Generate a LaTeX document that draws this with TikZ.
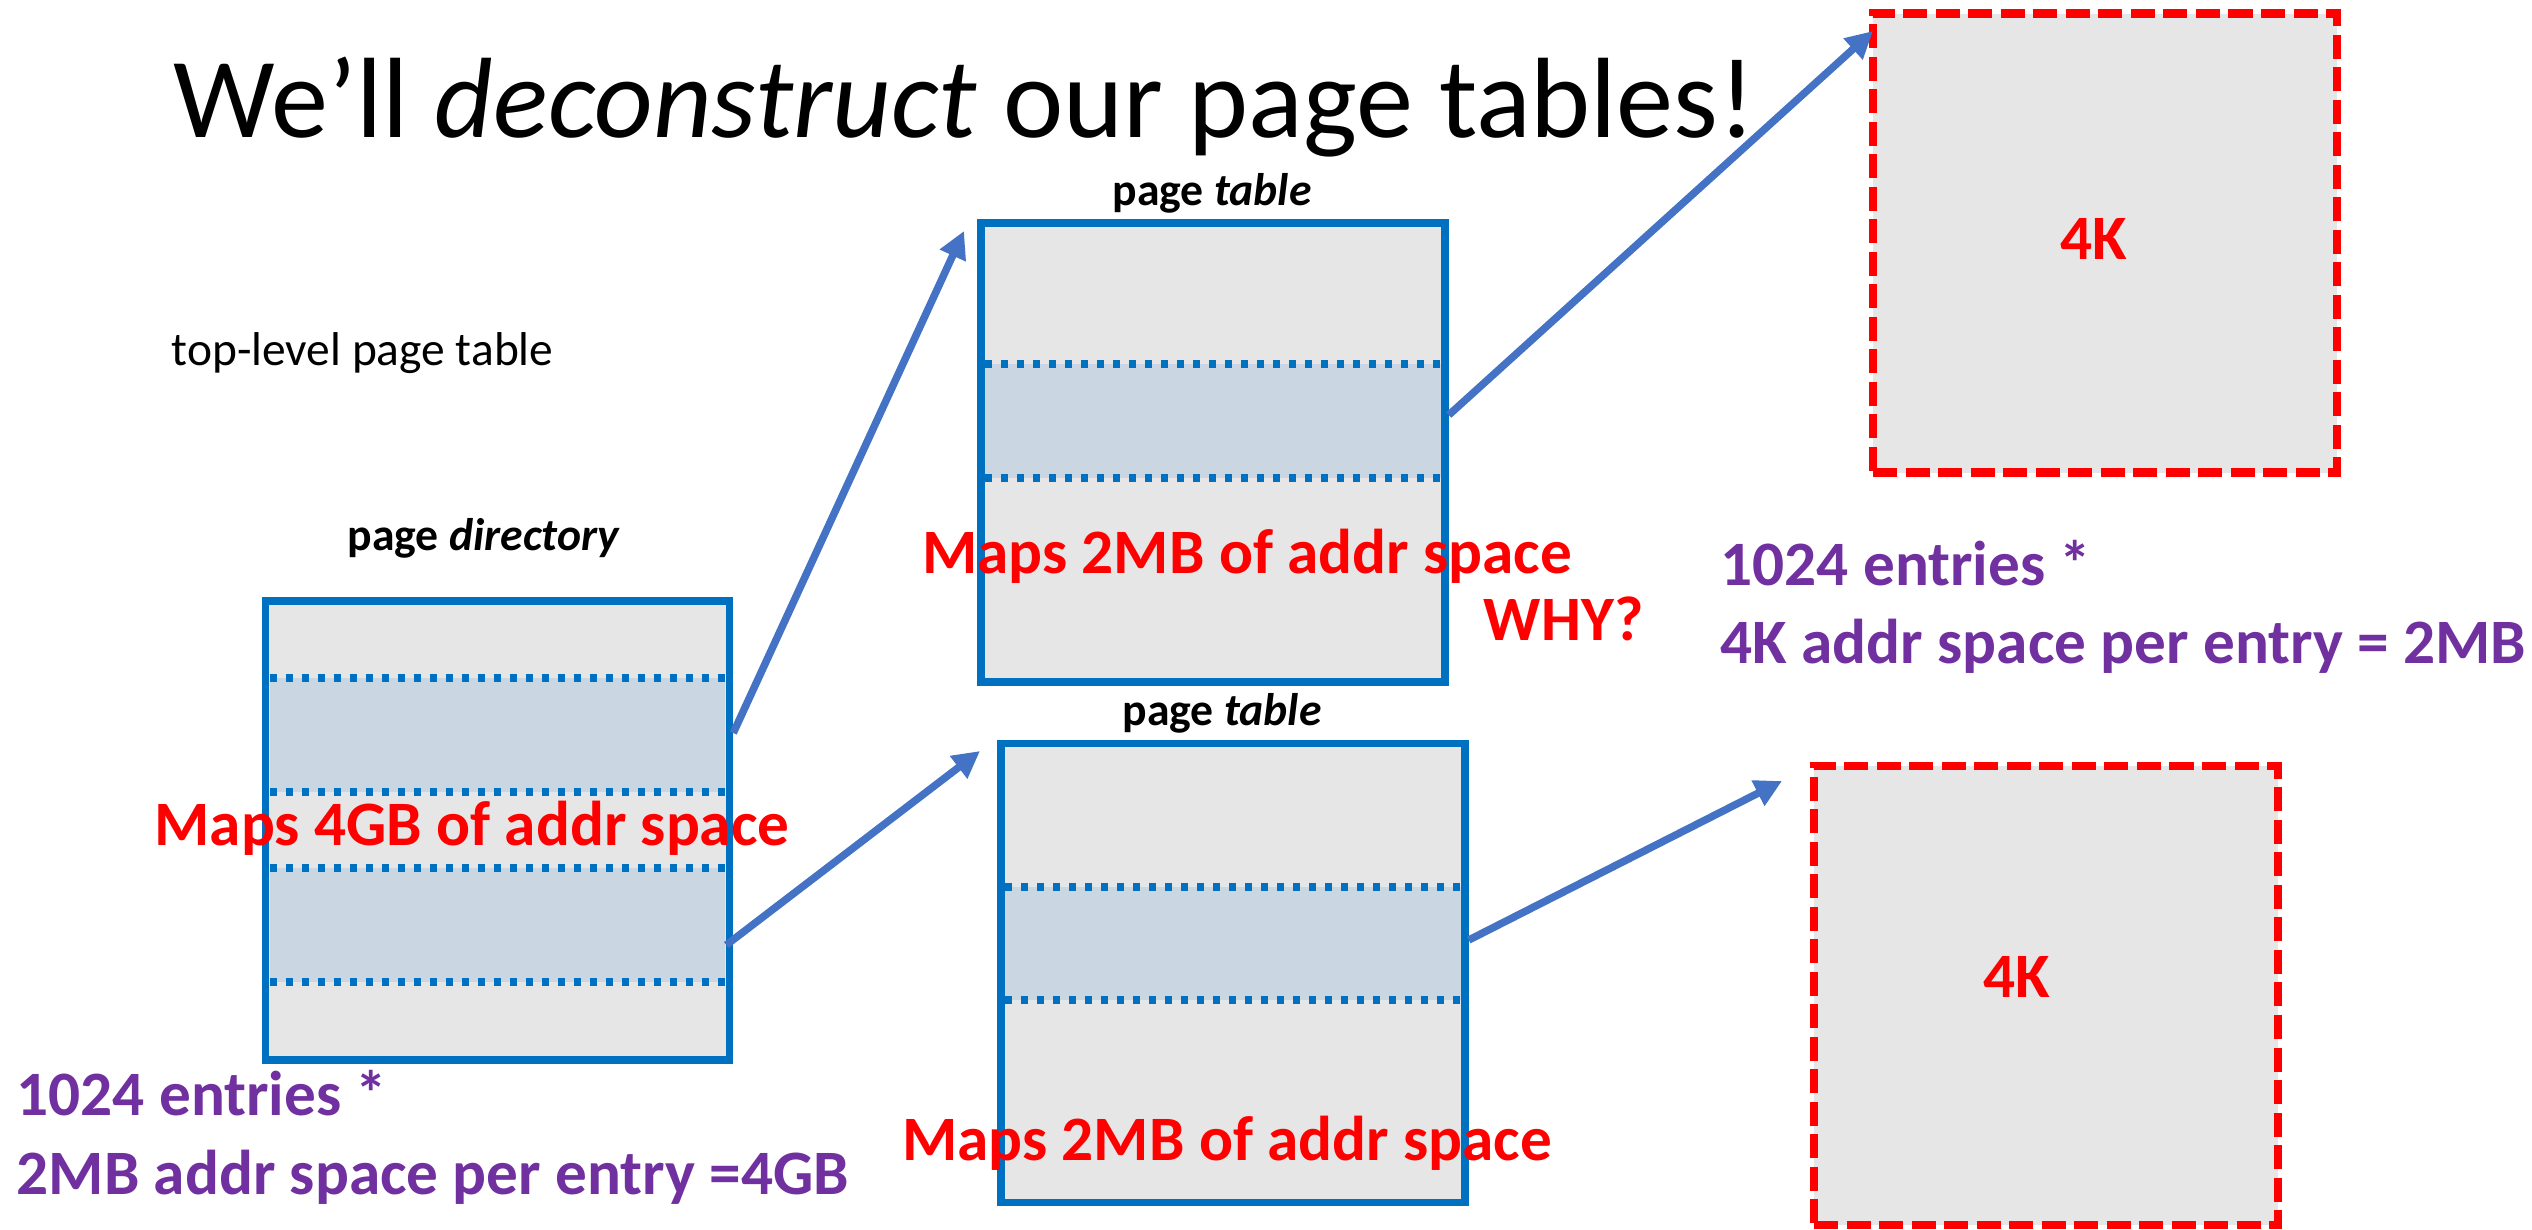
\documentclass[tikz,border=0pt]{standalone}
\usepackage{fontspec}
\setmainfont{Carlito}
\usetikzlibrary{positioning,arrows.meta}
\definecolor{tblblue}{RGB}{0,112,192}
\definecolor{arrblue}{RGB}{68,114,196}
\definecolor{pagegray}{RGB}{230,230,230}
\definecolor{entryfill}{RGB}{202,214,225}
\definecolor{notepurple}{RGB}{112,48,160}
\newcommand{\titlefont}{\fontsize{32.5}{39}\selectfont}
\newcommand{\lblfont}{\fontsize{13}{16}\selectfont\bfseries}
\newcommand{\mapfont}{\fontsize{18}{22.2}\selectfont\bfseries}

\begin{document}
\begin{tikzpicture}[
  tbl/.style={draw=tblblue, fill=pagegray, line width=0.075cm,
              minimum width=4.64cm, minimum height=4.59cm, inner sep=0pt},
  frame/.style={draw=red, fill=pagegray, line width=0.085cm,
                dash pattern=on 0.24cm off 0.085cm,
                minimum width=4.64cm, minimum height=4.59cm, inner sep=0pt},
  entry/.style={fill=entryfill},
  sep/.style={draw=tblblue, line width=0.075cm, dash pattern=on 0.07cm off 0.09cm},
  ptr/.style={draw=arrblue, line width=0.075cm,
              -{Triangle[length=0.27cm, width=0.27cm]}},
  maps/.style={anchor=base, text=red, font=\mapfont, inner sep=0pt},
  size/.style={text=red, font=\mapfont, inner sep=0pt},
  note/.style={anchor=north west, align=left, text=notepurple, font=\mapfont, inner sep=0pt},
]
\useasboundingbox (0,0) rectangle (25.32,-12.29);

\node[anchor=base west, font=\titlefont, inner sep=0pt] (title) at (1.73,-1.37)
    {We’ll \textit{deconstruct} our page tables!};
\node[anchor=base west, font=\fontsize{13.5}{16}\selectfont, inner sep=0pt] (toplvl) at (1.71,-3.65)
    {top-level page table};

% tables
\node[tbl] (pd)  at (4.975,-8.305) {};
\node[tbl] (pt1) at (12.13,-4.525) {};
\node[tbl] (pt2) at (12.33,-9.73)  {};

% entries in use
\fill[entry] (2.70,-6.78) rectangle (7.25,-7.92);
\fill[entry] (2.70,-8.68) rectangle (7.25,-9.82);
\fill[entry] (9.85,-3.64) rectangle (14.41,-4.78);
\fill[entry] (10.05,-8.87) rectangle (14.61,-10.00);
\foreach \y in {-6.78,-7.92,-8.68,-9.82}
  \draw[sep] (2.70,\y) -- (7.25,\y);
\foreach \y in {-3.64,-4.78}
  \draw[sep] (9.85,\y) -- (14.41,\y);
\foreach \y in {-8.87,-10.00}
  \draw[sep] (10.05,\y) -- (14.61,\y);

% physical pages
\node[frame] (pg1) at (21.05,-2.43)  {};
\node[frame] (pg2) at (20.46,-9.955) {};
\node[size] (pg1k) at (20.94,-2.39) {4K};
\node[size] (pg2k) at (20.17,-9.77) {4K};

\node[anchor=base, font=\lblfont] (pdlbl)  at (4.84,-5.50)  {page \textit{directory}};
\node[anchor=base, font=\lblfont] (pt1lbl) at (12.12,-2.05) {page \textit{table}};
\node[anchor=base, font=\lblfont] (pt2lbl) at (12.22,-7.25) {page \textit{table}};

\coordinate (to-pt1) at (9.64,-2.31);
\coordinate (to-pt2) at (9.80,-7.51);
\coordinate (to-pg1) at (18.73,-0.31);
\coordinate (to-pg2) at (17.82,-7.81);

\draw[ptr] ([yshift=0.975cm]pd.east) -- (to-pt1);
\draw[ptr] ([xshift=-0.07cm,yshift=-1.145cm]pd.east) -- (to-pt2);
\draw[ptr] ([yshift=0.375cm]pt1.east) -- (to-pg1);
\draw[ptr] ([yshift=0.33cm]pt2.east) -- (to-pg2);

\node[maps] (pdmap)  at (4.72,-8.45)  {Maps 4GB of addr space};
\node[maps] (pt1map) at (12.47,-5.73) {Maps 2MB of addr space};
\node[maps] (pt2map) at (12.27,-11.60) {Maps 2MB of addr space};
\node[maps] (why)    at (15.64,-6.40) {WHY?};

\node[note] (ptnote) at (17.20,-5.40) {1024 entries *\\4K addr space per entry = 2MB};
\node[note] (pdnote) at (0.16,-10.70) {1024 entries *\\2MB addr space per entry =4GB};
\end{tikzpicture}
\end{document}
